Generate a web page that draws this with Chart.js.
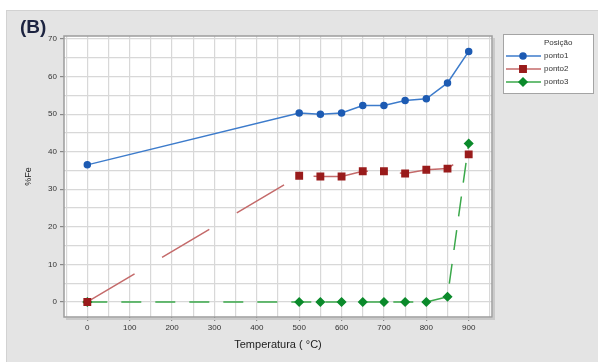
<!DOCTYPE html>
<html>
<head>
<meta charset="utf-8">
<script src="https://cdn.jsdelivr.net/npm/chart.js@4/dist/chart.umd.min.js"></script>
<style>
  html, body { margin: 0; padding: 0; background: #fff; }
  #wrap { width: 598px; height: 362px; }
</style>
</head>
<body>
<div id="wrap"><canvas id="feChart" width="598" height="362"></canvas></div>
<script>
// temperatures (°C)
const temps = [0, 500, 550, 600, 650, 700, 750, 800, 850, 900];
// %Fe per position
const ponto1 = [36.5, 50.3, 50.0, 50.3, 52.3, 52.3, 53.6, 54.1, 58.3, 66.7];
const ponto2 = [0.0, 33.6, 33.4, 33.4, 34.8, 34.8, 34.2, 35.2, 35.5, 39.3];
const ponto3 = [0.0, 0.0, 0.0, 0.0, 0.0, 0.0, 0.0, 0.0, 1.4, 42.2];
const seriesNames = ['ponto1', 'ponto2', 'ponto3'];
const xTickLabels = [0, 100, 200, 300, 400, 500, 600, 700, 800, 900];
const yTickLabels = [0, 10, 20, 30, 40, 50, 60, 70];

const FONT = '"Liberation Sans", Arial, sans-serif';

function toPoints(ys) {
    return temps.map((t, i) => ({ x: t, y: ys[i] }));
}

// gray frame + white plot area + border
const framePlugin = {
    id: 'frame',
    beforeDraw(chart) {
        const ctx = chart.ctx;
        const a = chart.chartArea;
        ctx.save();
        ctx.fillStyle = '#ffffff';
        ctx.fillRect(0, 0, chart.width, chart.height);
        ctx.fillStyle = '#e4e4e4';
        ctx.fillRect(6, 10, chart.width - 6, chart.height - 10);
        ctx.strokeStyle = '#d2d2d2';
        ctx.lineWidth = 1;
        ctx.strokeRect(6.5, 10.5, chart.width, chart.height);
        ctx.fillStyle = '#ffffff';
        ctx.fillRect(a.left, a.top, a.right - a.left, a.bottom - a.top);
        ctx.restore();
    },
    afterDatasetsDraw(chart) {
        const ctx = chart.ctx;
        const a = chart.chartArea;
        ctx.save();
        ctx.strokeStyle = '#cacaca';
        ctx.lineWidth = 2;
        ctx.beginPath();
        ctx.moveTo(a.right + 2, a.top + 2);
        ctx.lineTo(a.right + 2, a.bottom + 2);
        ctx.lineTo(a.left + 2, a.bottom + 2);
        ctx.stroke();
        ctx.strokeStyle = '#9c9c9c';
        ctx.lineWidth = 1.5;
        ctx.strokeRect(a.left, a.top, a.right - a.left, a.bottom - a.top);
        // panel tag
        ctx.fillStyle = '#1c2340';
        ctx.font = 'bold 19px ' + FONT;
        ctx.textBaseline = 'middle';
        ctx.fillText('(B)', 20, 28);
        ctx.restore();
    }
};

// Minitab-style legend box
const legendBoxPlugin = {
    id: 'legendBox',
    afterDraw(chart) {
        const ctx = chart.ctx;
        const bx = 503, by = 34, bw = 90, bh = 59;
        ctx.save();
        ctx.fillStyle = '#ffffff';
        ctx.fillRect(bx, by, bw, bh);
        ctx.strokeStyle = '#a4a4a4';
        ctx.lineWidth = 1;
        ctx.strokeRect(bx + 0.5, by + 0.5, bw, bh);
        ctx.font = '8px ' + FONT;
        ctx.fillStyle = '#333';
        ctx.textBaseline = 'middle';
        ctx.fillText('Posição', 544, 43);
        chart.data.datasets.forEach((ds, i) => {
            const y = 56 + i * 13;
            ctx.strokeStyle = ds.borderColor;
            ctx.lineWidth = 1.5;
            ctx.setLineDash([]);
            ctx.beginPath();
            ctx.moveTo(506, y);
            ctx.lineTo(541, y);
            ctx.stroke();
            ctx.fillStyle = ds.pointBackgroundColor;
            ctx.strokeStyle = ds.pointBackgroundColor;
            Chart.helpers.drawPoint(ctx, {
                pointStyle: ds.pointStyle, radius: ds.pointRadius,
                rotation: 0, borderWidth: 1
            }, 523, y);
            ctx.fillStyle = '#333';
            ctx.fillText(ds.label, 544, y);
        });
        ctx.restore();
    }
};

const gridColor = (ctx, step) => {
    const v = ctx.tick ? ctx.tick.value : null;
    if (v === null || Math.abs(v % step) > 1e-6) return 'rgba(0,0,0,0)';
    return '#d8d8d8';
};

new Chart(document.getElementById('feChart'), {
    type: 'line',
    data: {
        datasets: [
            {
                label: seriesNames[0],
                data: toPoints(ponto1),
                borderColor: '#3c7bcb',
                pointBackgroundColor: '#1d5bb3',
                pointBorderColor: '#1d5bb3',
                pointStyle: 'circle',
                pointRadius: 3,
                borderWidth: 1.5
            },
            {
                label: seriesNames[1],
                data: toPoints(ponto2),
                borderColor: '#c46a6a',
                borderDash: [55, 32],
                pointBackgroundColor: '#991b1b',
                pointBorderColor: '#991b1b',
                pointStyle: 'rect',
                pointRadius: 4.5,
                borderWidth: 1.5
            },
            {
                label: seriesNames[2],
                data: toPoints(ponto3),
                borderColor: '#3aa84a',
                borderDash: [20, 14],
                pointBackgroundColor: '#0b8a2b',
                pointBorderColor: '#0b8a2b',
                pointStyle: 'rectRot',
                pointRadius: 4,
                borderWidth: 1.5
            }
        ]
    },
    options: {
        responsive: false,
        animation: false,
        layout: { padding: { top: 36, right: 106, left: 0, bottom: 0 } },
        plugins: {
            legend: { display: false },
            tooltip: { enabled: false }
        },
        scales: {
            x: {
                type: 'linear',
                min: -55,
                max: 955,
                afterFit(scale) { scale.height = 45; },
                border: { display: false },
                grid: {
                    color: c => gridColor(c, 50),
                    lineWidth: 1.2,
                    borderDash: [16, 6],
                    tickLength: 4,
                    tickBorderDash: [],
                    tickColor: c => (c.tick && xTickLabels.includes(c.tick.value)) ? '#888' : 'rgba(0,0,0,0)'
                },
                ticks: {
                    stepSize: 50,
                    includeBounds: false,
                    autoSkip: false,
                    maxRotation: 0,
                    padding: 2,
                    color: '#333',
                    font: { family: FONT, size: 8 },
                    callback: v => xTickLabels.includes(v) ? String(v) : ''
                },
                title: {
                    display: true,
                    text: 'Temperatura ( °C)',
                    color: '#222',
                    font: { family: FONT, size: 11 },
                    padding: { top: 0, bottom: 10 }
                }
            },
            y: {
                type: 'linear',
                min: -4,
                max: 70.8,
                afterFit(scale) { scale.width = 64; },
                border: { display: false },
                grid: {
                    color: c => gridColor(c, 5),
                    lineWidth: 1.2,
                    borderDash: [16, 6],
                    tickLength: 4,
                    tickBorderDash: [],
                    tickColor: c => (c.tick && yTickLabels.includes(c.tick.value)) ? '#888' : 'rgba(0,0,0,0)'
                },
                ticks: {
                    stepSize: 5,
                    includeBounds: false,
                    autoSkip: false,
                    padding: 3,
                    color: '#333',
                    font: { family: FONT, size: 8 },
                    callback: v => yTickLabels.includes(v) ? String(v) : ''
                },
                title: {
                    display: true,
                    text: '%Fe',
                    color: '#222',
                    font: { family: FONT, size: 9 },
                    padding: { top: 23, bottom: 0 }
                }
            }
        }
    },
    plugins: [framePlugin, legendBoxPlugin]
});
</script>
</body>
</html>
